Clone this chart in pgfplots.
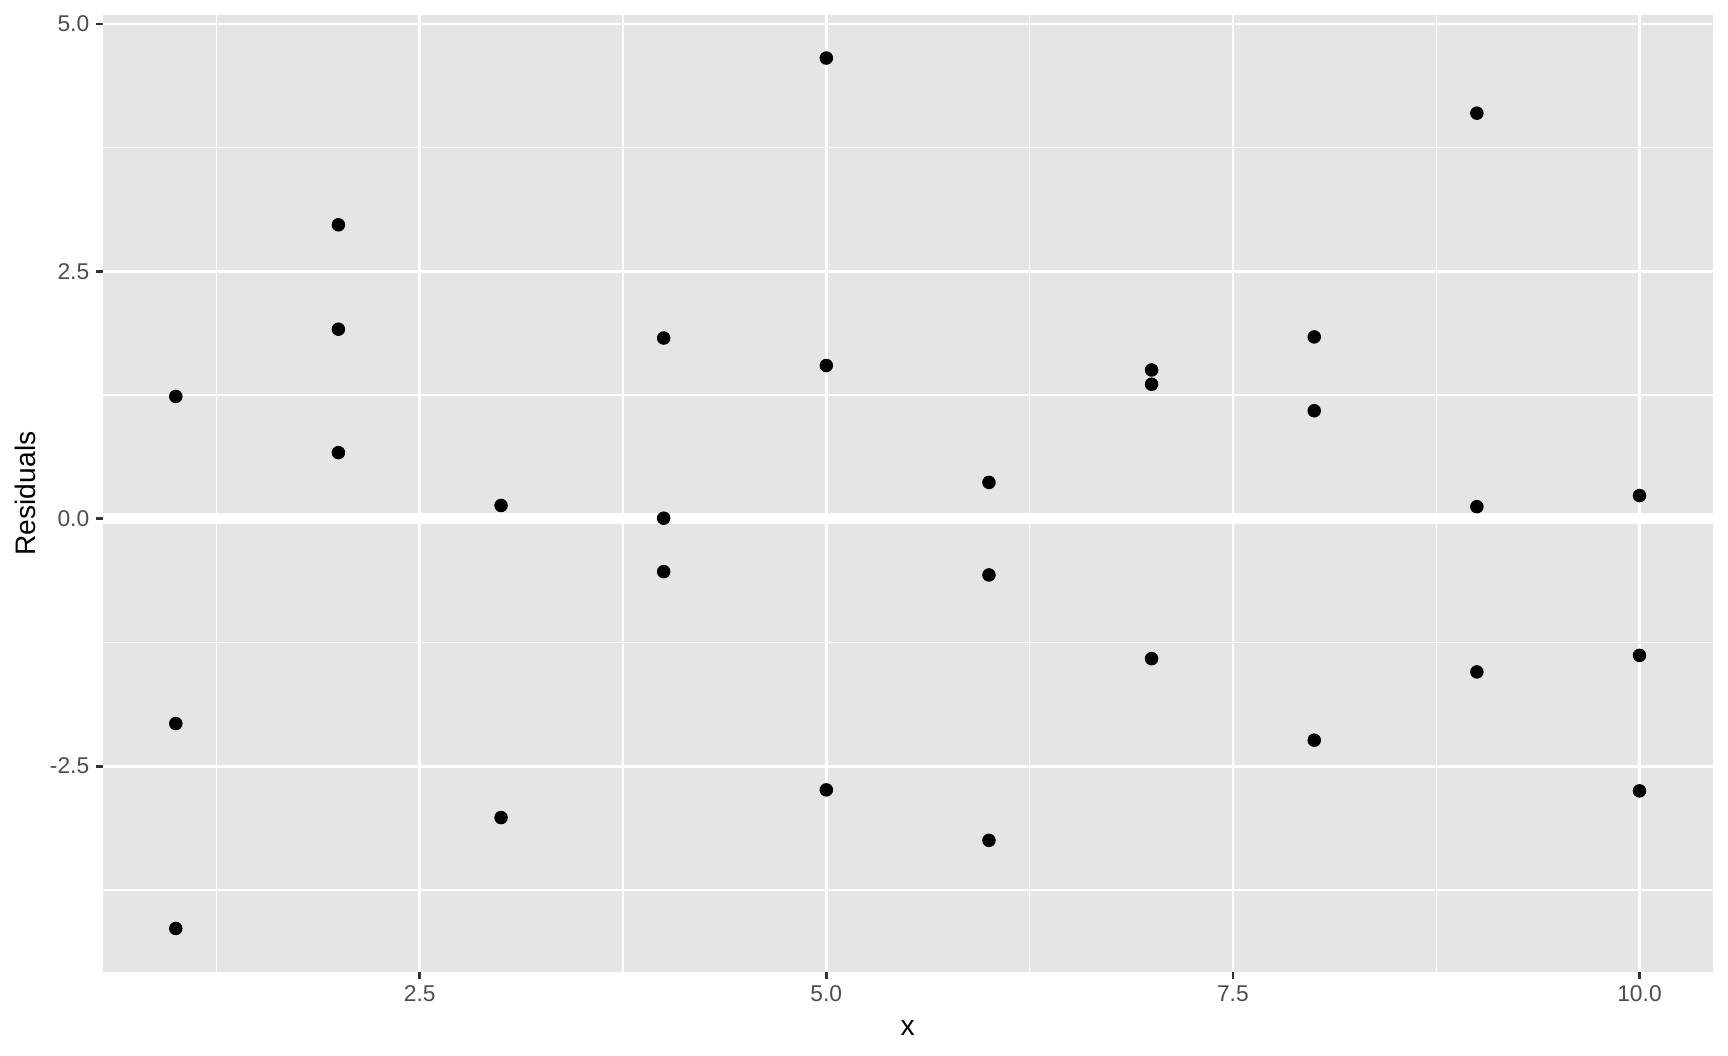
\documentclass[border=0pt]{standalone}
\usepackage{fontspec}
\setmainfont{Liberation Sans}
\usepackage{pgfplots}
\pgfplotsset{compat=1.18}
\definecolor{panelgray}{HTML}{E5E5E5}
\definecolor{gray20}{HTML}{333333}
\definecolor{gray30}{HTML}{4D4D4D}
\begin{document}
\begin{tikzpicture}
    \path[use as bounding box] (-34.2pt,-28pt) rectangle (541.8pt,324pt);
    \begin{axis}[
        at={(0,0)}, anchor=south west,
        scale only axis,
        width=536.7pt, height=319pt,
        xmin=0.55, xmax=10.45,
        ymin=-4.58, ymax=5.09,
        axis background/.style={fill=panelgray},
        axis line style={draw=none},
        xtick={2.5,5,7.5,10},
        xticklabels={2.5,5.0,7.5,10.0},
        ytick={-2.5,0,2.5,5},
        yticklabels={-2.5,0.0,2.5,5.0},
        minor xtick={1.25,3.75,6.25,8.75},
        minor ytick={-3.75,-1.25,1.25,3.75},
        tick align=outside,
        major tick length=2.35pt,
        minor tick length=0pt,
        xtick pos=bottom, ytick pos=left,
        major tick style={gray20, line width=0.92pt},
        grid=both,
        major grid style={white, line width=0.92pt},
        minor grid style={white, line width=0.46pt},
        xticklabel style={font=\fontsize{7.6}{9}\selectfont, text=gray30, inner sep=0pt, anchor=north, yshift=-1.9pt},
        yticklabel style={font=\fontsize{7.6}{9}\selectfont, text=gray30, inner sep=0pt, anchor=east, xshift=-1.9pt},
        xlabel={x},
        ylabel={Residuals},
        label style={font=\fontsize{9.4}{11}\selectfont, text=black},
        xlabel style={at={(axis description cs:0.5,-0.0668)}, anchor=base},
        ylabel style={at={(axis description cs:-0.0416,0.5)}, anchor=base, rotate=0},
        clip=false,
    ]
        \addplot[white, line width=3.6pt] coordinates {(0.55,0) (10.45,0)};
        \addplot[only marks, mark=*, mark size=2.05pt, black] coordinates {
            (1,1.236) (1,-2.07) (1,-4.14)
            (2,2.97) (2,1.915) (2,0.668)
            (3,0.134) (3,-3.02)
            (4,1.826) (4,0.005) (4,-0.535)
            (5,4.655) (5,1.548) (5,-2.74)
            (6,0.367) (6,-0.568) (6,-3.25)
            (7,1.503) (7,1.359) (7,-1.414)
            (8,1.837) (8,1.091) (8,-2.238)
            (9,4.098) (9,0.122) (9,-1.548)
            (10,0.234) (10,-1.381) (10,-2.75)
        };
    \end{axis}
\end{tikzpicture}
\end{document}
